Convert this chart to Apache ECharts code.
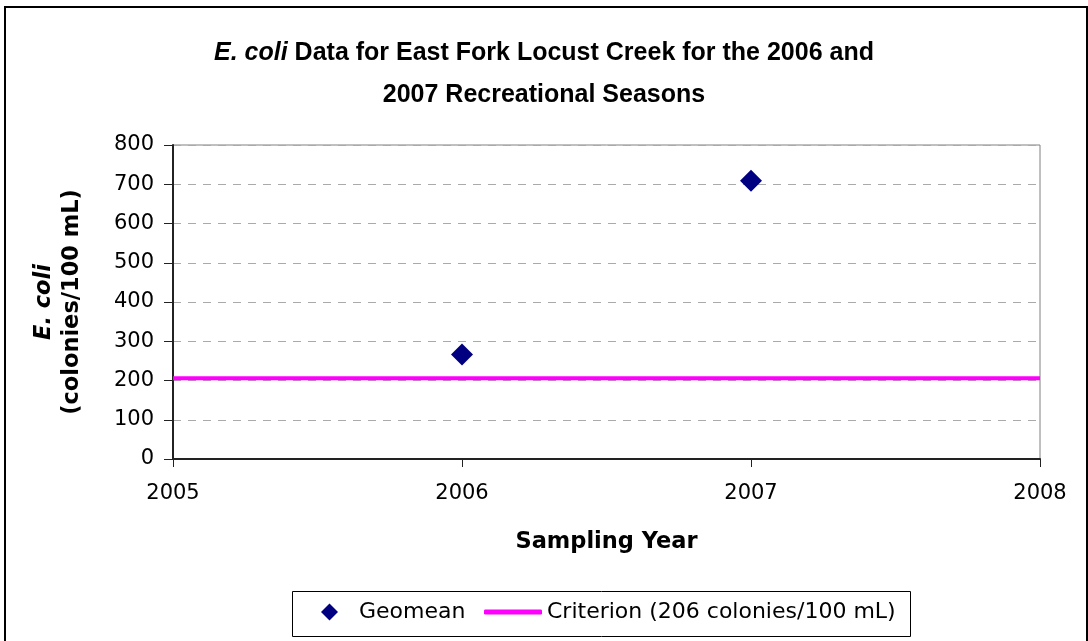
<!DOCTYPE html>
<html>
<head>
<meta charset="utf-8">
<script src="https://cdn.jsdelivr.net/npm/echarts@6/dist/echarts.min.js"></script>
<style>
  html, body { margin: 0; padding: 0; background: #fff; }
  #frame { position: absolute; left: 4px; top: 6px; width: 1084px; height: 640px; border: 2px solid #000; border-bottom: none; box-sizing: border-box; pointer-events: none; }
  #chart { width: 1088px; height: 641px; }
</style>
</head>
<body>
<div id="chart"></div>
<div id="frame"></div>
<script>
// 数据
var years = [2006, 2007];
var geomean = [266, 709];
var criterionX = [2005, 2008];
var criterionY = [206, 206];
var yTicks = [0, 100, 200, 300, 400, 500, 600, 700, 800];
var xTicks = [2005, 2006, 2007, 2008];

var titleFont = 'Liberation Sans, Arial, sans-serif';
var bodyFont = 'DejaVu Sans, Verdana, sans-serif';

var chart = echarts.init(document.getElementById('chart'));

var option = {
    animation: false,
    title: {
        text: '{i|E. coli} Data for East Fork Locust Creek for the 2006 and\n2007 Recreational Seasons',
        left: 'center',
        top: 27,
        textStyle: {
            fontFamily: titleFont,
            fontSize: 25,
            fontWeight: 'bold',
            color: '#000',
            lineHeight: 42,
            rich: {
                i: { fontStyle: 'italic', fontWeight: 'bold', fontSize: 25, fontFamily: titleFont, color: '#000' }
            }
        }
    },
    grid: {
        left: 173, right: 48, top: 145, bottom: 182,
        show: true, borderColor: '#808080', borderWidth: 1
    },
    // 图例外框
    graphic: [{
        type: 'rect',
        left: 292, top: 591,
        shape: { width: 618, height: 45 },
        style: { fill: '#fff', stroke: '#000', lineWidth: 1 },
        z: 0
    }],
    legend: [
        {
            left: 321, top: 601, padding: 0,
            itemWidth: 17, itemHeight: 17,
            textStyle: { fontFamily: bodyFont, fontSize: 22, color: '#000', padding: [0, 0, 0, 16] },
            data: [{ name: 'Geomean', icon: 'diamond', itemStyle: { color: '#000080', opacity: 1 } }],
            z: 5
        },
        {
            left: 484, top: 601, padding: 0,
            itemWidth: 58, itemHeight: 5,
            textStyle: { fontFamily: bodyFont, fontSize: 22, color: '#000' },
            data: [{ name: 'Criterion (206 colonies/100 mL)', icon: 'roundRect', itemStyle: { color: '#ff00ff' } }],
            z: 5
        }
    ],
    xAxis: {
        type: 'value',
        min: xTicks[0], max: xTicks[xTicks.length - 1], interval: 1,
        name: 'Sampling Year',
        nameLocation: 'middle',
        nameGap: 72,
        nameTextStyle: { fontFamily: bodyFont, fontSize: 22.5, fontWeight: 'bold', color: '#000' },
        axisLine: { show: true, lineStyle: { color: '#222', width: 2 } },
        axisTick: { show: true, length: 8, lineStyle: { color: '#222', width: 1 } },
        axisLabel: { fontFamily: bodyFont, fontSize: 21, color: '#000', margin: 24, formatter: function (v) { return String(v); } },
        splitLine: { show: false }
    },
    yAxis: {
        type: 'value',
        min: yTicks[0], max: yTicks[yTicks.length - 1], interval: 100,
        name: '{i|E. coli}\n(colonies/100 mL)',
        nameLocation: 'middle',
        nameRotate: 90,
        nameGap: 87,
        nameTextStyle: {
            fontFamily: bodyFont, fontSize: 22.5, fontWeight: 'bold', color: '#000', lineHeight: 28,
            rich: { i: { fontStyle: 'italic', fontWeight: 'bold', fontSize: 22.5, fontFamily: bodyFont, color: '#000', lineHeight: 28 } }
        },
        axisLine: { show: true, lineStyle: { color: '#222', width: 2 } },
        axisTick: { show: true, length: 9, lineStyle: { color: '#222', width: 1 } },
        axisLabel: { fontFamily: bodyFont, fontSize: 21, color: '#000', margin: 19 },
        splitLine: { show: true, lineStyle: { color: '#aaaaaa', type: [8, 7], width: 1 } }
    },
    series: [
        {
            name: 'Geomean',
            type: 'scatter',
            symbol: 'diamond',
            symbolSize: 22,
            itemStyle: { color: '#000080', opacity: 1 },
            data: years.map(function (y, i) { return [y, geomean[i]]; }),
            z: 3
        },
        {
            name: 'Criterion (206 colonies/100 mL)',
            type: 'line',
            symbol: 'none',
            lineStyle: { color: '#ff00ff', width: 4 },
            itemStyle: { color: '#ff00ff' },
            data: criterionX.map(function (x, i) { return [x, criterionY[i]]; }),
            z: 2
        }
    ]
};

chart.setOption(option);
</script>
</body>
</html>
